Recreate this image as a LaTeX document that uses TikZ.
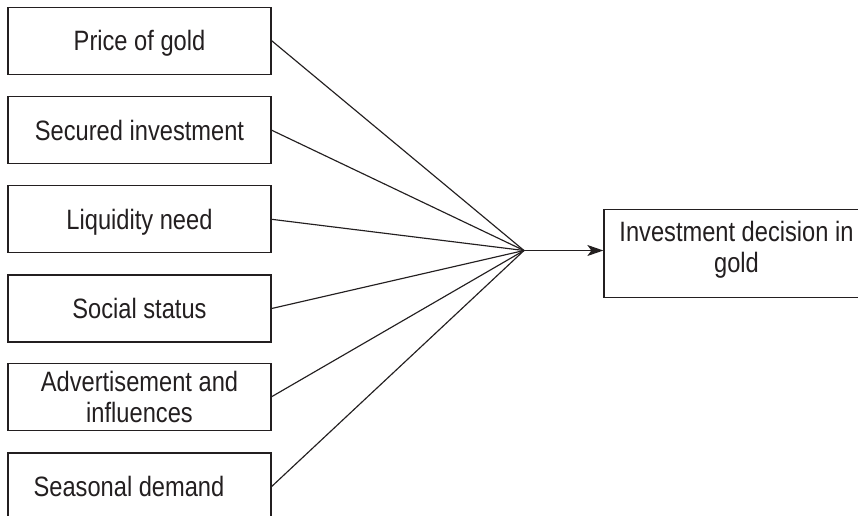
\documentclass[tikz,border=0pt]{standalone}
\usepackage{fontspec}
\setmainfont[FakeStretch=0.845]{Liberation Sans}
\usetikzlibrary{arrows.meta}
\definecolor{ink}{HTML}{231F20}
\begin{document}
\begin{tikzpicture}[x=1pt,y=-1pt,
  box/.style={draw=ink,line width=1.3pt,minimum width=263pt,minimum height=67pt,inner sep=0pt,
    align=center,font=\fontsize{28pt}{31pt}\selectfont,text=ink,text height=20pt,text depth=0pt},
  twoline/.style={text height=51pt},
  link/.style={draw=ink,line width=1.15pt}]
\useasboundingbox (0,0) rectangle (858,515);
\clip (0,0) rectangle (858,515);
\fill[white] (0,0) rectangle (858,515);
\node[box] (b1) at (139.5,40.7) {Price of gold};
\node[box] (b2) at (139.5,130.2) {Secured investment};
\node[box] (b3) at (139.5,219.3) {Liquidity need};
\node[box] (b4) at (139.5,308.5) {Social status};
\node[box,twoline] (b5) at (139.5,396.7) {Advertisement and\\influences};
\node[box] (b6) at (139.5,486.5) {Seasonal demand\hspace*{21pt}};
\node[box,twoline,minimum width=265pt,minimum height=88pt,text depth=12pt] (goal) at (736.5,253.3) {Investment decision in\\gold};
\coordinate (hub) at (524,250.5);
\foreach \n in {b1,b2,b3,b4,b5,b6}{\draw[link] (\n.east) -- (hub);}
\draw[link,-{Stealth[length=16pt,width=11pt,inset=4pt]}] (hub) -- (hub -| goal.west);
\end{tikzpicture}
\end{document}
